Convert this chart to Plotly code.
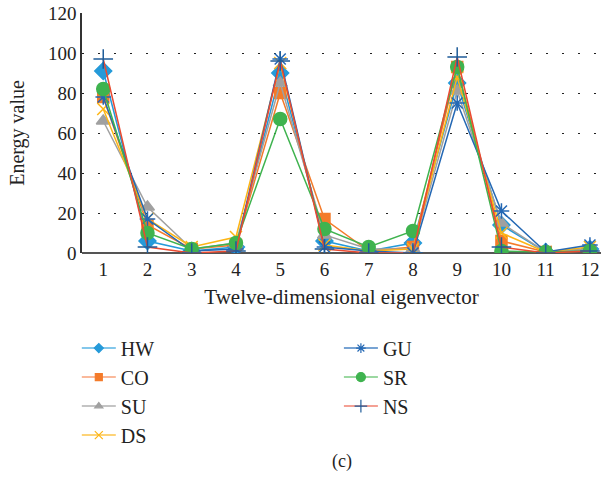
import plotly.graph_objects as go

x_labels = [1, 2, 3, 4, 5, 6, 7, 8, 9, 10, 11, 12]

HW = [91, 6, 1, 3, 90, 6, 1, 5, 85, 14, 0.5, 2]
CO = [78, 14, 2, 4, 80, 17, 1, 3, 93, 6, 0.5, 1]
SU = [66, 23, 2, 5, 85, 9, 2, 2, 81, 15, 0.5, 2]
DS = [72, 17, 3, 8, 95, 4, 1, 2, 88, 10, 0.5, 3]
GU = [78, 17, 1, 2, 97, 3, 1, 0, 75, 21, 0.5, 4]
SR = [82, 10, 2, 5, 67, 12, 3, 11, 93, 1, 0.5, 1]
NS = [97, 3, 0, 1, 96, 2, 0, 0, 98, 3, 0, 1]

series = [
    ("HW", HW, "#259ad9", "#259ad9", "diamond", 13, "legend", 1, 7),
    ("CO", CO, "#f47b2a", "#f47b2a", "square", 11, "legend", 2, 7),
    ("SU", SU, "#a0a0a0", "#a0a0a0", "triangle-up", 12, "legend", 3, 7),
    ("DS", DS, "#fdb515", "#fdb515", "x-thin-open", 12, "legend", 4, 8),
    ("GU", GU, "#2468b4", "#2468b4", "asterisk-open", 13, "legend2", 5, 8),
    ("SR", SR, "#3fb34f", "#3fb34f", "circle", 13, "legend2", 6, 9),
    ("NS", NS, "#ea4a31", "#1f5c99", "cross-thin-open", 14, "legend2", 7, 9),
]

legend_line = {"HW": "#5ab4e5", "CO": "#f9a27a", "SU": "#b0b0b0", "DS": "#fdc44a",
               "GU": "#4a84c4", "SR": "#7acb82", "NS": "#f08070"}

fig = go.Figure()
for name, vals, lc, mc, sym, size, lg, rank, lsize in series:
    fig.add_trace(go.Scatter(
        x=x_labels, y=vals, name=name, mode="lines+markers",
        line=dict(color=lc, width=1.5),
        marker=dict(symbol=sym, size=size, color=mc,
                    line=dict(color=mc, width=1.5)),
        showlegend=False,
    ))
for name, vals, lc, mc, sym, size, lg, rank, lsize in series:
    fig.add_trace(go.Scatter(
        x=[None], y=[None], name=name, mode="lines+markers",
        line=dict(color=legend_line[name], width=1.5),
        marker=dict(symbol=sym, size=lsize, color=mc,
                    line=dict(color=mc, width=1.2)),
        legend=lg, legendrank=rank, showlegend=True,
    ))

font_fam = "Liberation Serif, Times New Roman, serif"

fig.update_layout(
    width=605, height=483,
    margin=dict(l=82, r=4, t=13, b=230),
    plot_bgcolor="white", paper_bgcolor="white",
    font=dict(family=font_fam, size=19, color="#222"),
    xaxis=dict(
        range=[0.52, 12.25], tickvals=x_labels, ticktext=[str(v) for v in x_labels],
        showgrid=False, zeroline=False, showline=False, ticks="",
        tickfont=dict(size=19), ticklabelstandoff=3,
        title=dict(text="Twelve-dimensional eigenvector", font=dict(size=21), standoff=10),
    ),
    yaxis=dict(
        range=[0, 120], dtick=20, showgrid=True,
        gridcolor="#222", griddash="2px,14px", gridwidth=1,
        zeroline=True, zerolinecolor="#555", zerolinewidth=2,
        showline=True, linecolor="#333", linewidth=1.5, ticks="",
        tickfont=dict(size=19),
        title=dict(text="Energy value", font=dict(size=20), standoff=18),
    ),
    legend=dict(
        x=-0.01, y=-0.315, xanchor="left", yanchor="top",
        xref="paper", yref="paper",
        font=dict(size=20), tracegroupgap=0, itemwidth=34,
        bgcolor="rgba(0,0,0,0)",
    ),
    legend2=dict(
        x=0.495, y=-0.315, xanchor="left", yanchor="top",
        xref="paper", yref="paper",
        font=dict(size=20), tracegroupgap=0, itemwidth=34,
        bgcolor="rgba(0,0,0,0)",
    ),
    annotations=[dict(
        text="(c)", x=0.5, xref="paper", y=-0.87, yref="paper",
        showarrow=False, font=dict(size=18), xanchor="center", yanchor="middle",
    )],
)

fig.write_html("out.html")
